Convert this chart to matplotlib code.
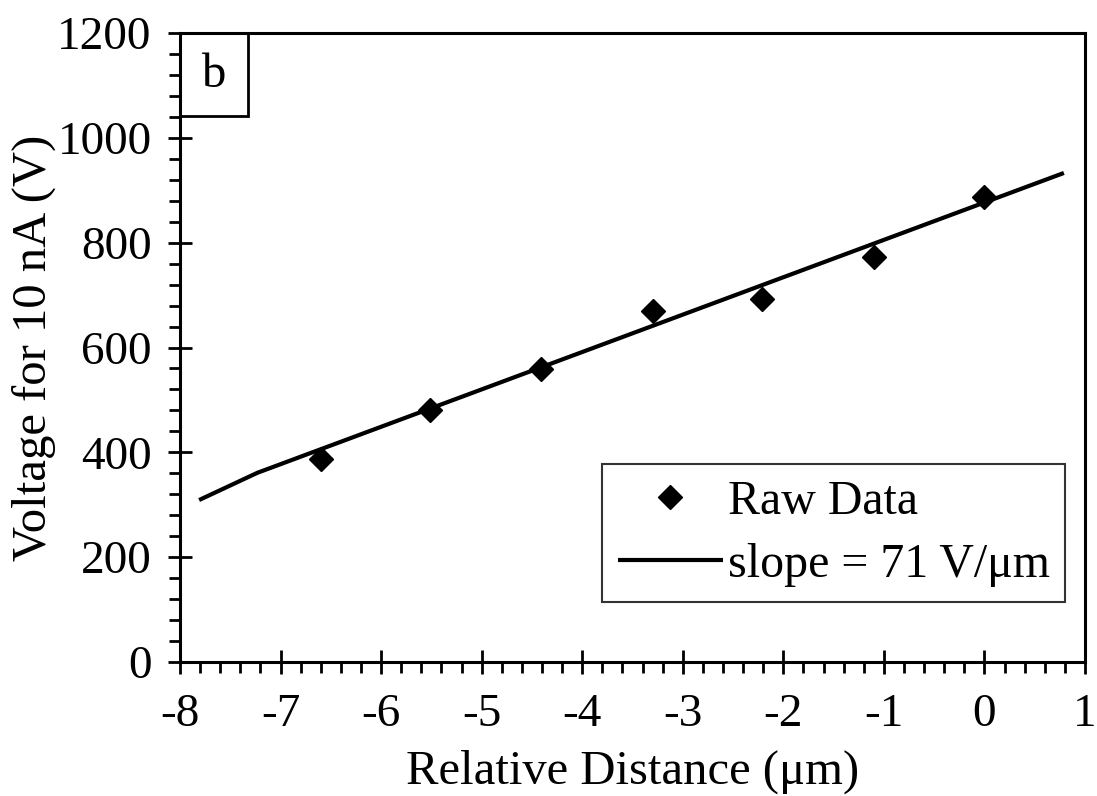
import matplotlib
matplotlib.use("Agg")
import matplotlib.pyplot as plt
from matplotlib.ticker import MultipleLocator
from matplotlib.patches import Rectangle

# Data
raw_x = [-6.60, -5.51, -4.41, -3.30, -2.21, -1.10, 0.0]
raw_y = [387, 481, 559, 670, 693, 773, 887]
fit_x = [-7.81, -7.23, 0.79]
fit_y = [309, 361, 933]
xticks = [-8, -7, -6, -5, -4, -3, -2, -1, 0, 1]
yticks = [0, 200, 400, 600, 800, 1000, 1200]

plt.rcParams['font.family'] = ['Liberation Serif', 'DejaVu Serif']
plt.rcParams['axes.unicode_minus'] = False

fig = plt.figure(figsize=(10.97, 7.96), dpi=100)
ax = fig.add_axes([180/1097, 134/796, (1085-180)/1097, (662-33)/796])

ax.plot(raw_x, raw_y, linestyle='none', marker='D', markersize=12,
        color='black', label='Raw Data', zorder=3)
ax.plot(fit_x, fit_y, color='black', linewidth=3, label='slope = 71 V/\u03bcm',
        solid_capstyle='butt')

ax.set_xlim(-8, 1)
ax.set_ylim(0, 1200)
ax.set_xticks(xticks)
ax.set_yticks(yticks)
ax.xaxis.set_minor_locator(MultipleLocator(0.2))
ax.yaxis.set_minor_locator(MultipleLocator(40))
ax.tick_params(which='major', direction='inout', length=17, width=2, labelsize=34, pad=12)
ax.tick_params(axis='x', which='major', pad=14)
ax.tick_params(which='minor', direction='out', length=8, width=2)
for s in ax.spines.values():
    s.set_linewidth(2.2)

ax.set_xlabel('Relative Distance (\u03bcm)', fontsize=35, labelpad=10)
ax.set_ylabel('Voltage for 10 nA (V)', fontsize=35, labelpad=1)

# panel label box
ax.add_patch(Rectangle((0, 1 - 0.132), 0.075, 0.132, transform=ax.transAxes,
                       fill=False, edgecolor='black', linewidth=2, clip_on=False))
ax.text(0.0375, 1 - 0.066, 'b', transform=ax.transAxes, fontsize=35,
        ha='center', va='center')

leg = ax.legend(loc='lower right', bbox_to_anchor=(0.978, 0.095), fontsize=34.5,
                frameon=True, fancybox=False, handlelength=2.2, handletextpad=0.1,
                borderpad=0.32, labelspacing=0.4, borderaxespad=0)
leg.get_frame().set_edgecolor('black')
leg.get_frame().set_linewidth(1.5)

fig.savefig('out.png', dpi=100)
